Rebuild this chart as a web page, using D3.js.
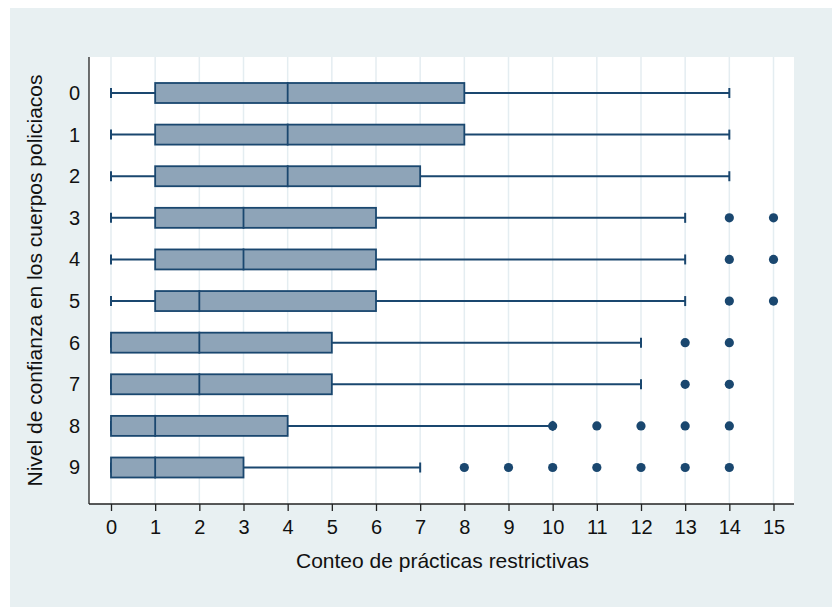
<!DOCTYPE html>
<html>
<head>
<meta charset="utf-8">
<script src="https://cdn.jsdelivr.net/npm/d3@7"></script>
<style>
  html, body { margin: 0; padding: 0; background: #ffffff; }
  svg { display: block; font-family: "Liberation Sans", Arial, sans-serif; }
</style>
</head>
<body>
<svg id="chart" width="832" height="607"></svg>
<script>
// Confidence level groups (rows) and box-plot summaries of the restrictive-practices count
const categories = ["0", "1", "2", "3", "4", "5", "6", "7", "8", "9"];
const lowerWhisker = [0, 0, 0, 0, 0, 0, 0, 0, 0, 0];
const q1 = [1, 1, 1, 1, 1, 1, 0, 0, 0, 0];
const median = [4, 4, 4, 3, 3, 2, 2, 2, 1, 1];
const q3 = [8, 8, 7, 6, 6, 6, 5, 5, 4, 3];
const upperWhisker = [14, 14, 14, 13, 13, 13, 12, 12, 10, 7];
const outliers = [
  [], [], [],
  [14, 15], [14, 15], [14, 15],
  [13, 14], [13, 14],
  [10, 11, 12, 13, 14],
  [8, 9, 10, 11, 12, 13, 14]
];
const xTicks = d3.range(0, 16);

const W = 832, H = 607;
const plot = { left: 89, right: 794, top: 57, bottom: 504 };
const navy = "#1a476f";
const boxFill = "#8ea4b8";
const tickFont = 20, titleFont = 21;

const svg = d3.select("#chart");

// outer panel
svg.append("rect").attr("x", 10).attr("y", 8).attr("width", W - 10).attr("height", H - 8)
  .attr("fill", "#e8f0f2");
// plot region
svg.append("rect").attr("x", plot.left).attr("y", plot.top)
  .attr("width", plot.right - plot.left).attr("height", plot.bottom - plot.top)
  .attr("fill", "#ffffff");

const x = d3.scaleLinear().domain([0, 15]).range([111, 773.5]);
const y = d3.scalePoint().domain(categories).range([93, 467.5]);
const boxH = 20, capH = 10;

// vertical grid
svg.append("g").selectAll("line").data(xTicks).join("line")
  .attr("x1", d => x(d)).attr("x2", d => x(d))
  .attr("y1", plot.top).attr("y2", plot.bottom)
  .attr("stroke", "#e4edf1").attr("stroke-width", 1.5);

// axes
const xAxis = svg.append("g").attr("transform", `translate(0,${plot.bottom})`)
  .call(d3.axisBottom(x).tickValues(xTicks).tickFormat(d3.format("d")).tickSize(7).tickPadding(9).tickSizeOuter(0));
xAxis.select(".domain").attr("d", `M${plot.left},0H${plot.right}`).attr("stroke", "#222").attr("stroke-width", 1.3);
xAxis.selectAll(".tick line").attr("stroke", "#222").attr("stroke-width", 1.3);
xAxis.selectAll(".tick text").attr("font-size", tickFont).attr("fill", "#111")
  .attr("font-family", "Liberation Sans, Arial, sans-serif");

const yAxis = svg.append("g").attr("transform", `translate(${plot.left},0)`)
  .call(d3.axisLeft(y).tickSize(0).tickPadding(9));
yAxis.select(".domain").attr("d", `M0,${plot.top}V${plot.bottom}`).attr("stroke", "#222").attr("stroke-width", 1.3);
yAxis.selectAll(".tick text").attr("font-size", tickFont).attr("fill", "#111")
  .attr("font-family", "Liberation Sans, Arial, sans-serif");

// axis titles
svg.append("text").attr("x", (plot.left + plot.right) / 2 + 1).attr("y", 568)
  .attr("text-anchor", "middle").attr("font-size", titleFont).attr("fill", "#111")
  .text("Conteo de prácticas restrictivas");
svg.append("text").attr("transform", `translate(42,${(plot.top + plot.bottom) / 2}) rotate(-90)`)
  .attr("text-anchor", "middle").attr("font-size", titleFont).attr("fill", "#111")
  .text("Nivel de confianza en los cuerpos policiacos");

// boxes
const rows = categories.map((c, i) => ({
  c, lo: lowerWhisker[i], q1: q1[i], med: median[i], q3: q3[i], hi: upperWhisker[i], out: outliers[i]
}));
const g = svg.append("g");
rows.forEach(r => {
  const cy = y(r.c);
  const row = g.append("g");
  // whiskers
  row.append("line").attr("x1", x(r.lo)).attr("x2", x(r.q1)).attr("y1", cy).attr("y2", cy)
    .attr("stroke", navy).attr("stroke-width", 2);
  row.append("line").attr("x1", x(r.q3)).attr("x2", x(r.hi)).attr("y1", cy).attr("y2", cy)
    .attr("stroke", navy).attr("stroke-width", 2);
  // caps
  [r.lo, r.hi].forEach(v => row.append("line").attr("x1", x(v)).attr("x2", x(v))
    .attr("y1", cy - capH / 2).attr("y2", cy + capH / 2).attr("stroke", navy).attr("stroke-width", 2));
  // box
  row.append("rect").attr("x", x(r.q1)).attr("y", cy - boxH / 2)
    .attr("width", x(r.q3) - x(r.q1)).attr("height", boxH)
    .attr("fill", boxFill).attr("stroke", navy).attr("stroke-width", 1.8);
  // median
  row.append("line").attr("x1", x(r.med)).attr("x2", x(r.med))
    .attr("y1", cy - boxH / 2 - 1).attr("y2", cy + boxH / 2 + 1)
    .attr("stroke", navy).attr("stroke-width", 1.8);
  // outside values
  row.selectAll("circle").data(r.out).join("circle")
    .attr("cx", d => x(d)).attr("cy", cy).attr("r", 4.6).attr("fill", navy);
});
</script>
</body>
</html>
